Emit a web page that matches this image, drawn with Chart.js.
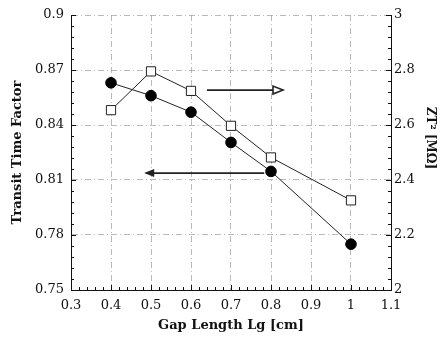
<!DOCTYPE html>
<html><head><meta charset="utf-8">
<style>html,body{margin:0;padding:0;background:#fff}#wrap{width:440px;height:338px}</style>
<script src="https://cdn.jsdelivr.net/npm/chart.js@4.4.1/dist/chart.umd.min.js"></script>
</head><body><div id="wrap"><canvas id="c" width="440" height="338"></canvas></div>
<script>
// ---- data ----
const gapLength = [0.4, 0.5, 0.6, 0.7, 0.8, 1.0];
const transitFactor = [0.863, 0.856, 0.847, 0.8305, 0.8147, 0.775];
const zt2 = [2.654, 2.795, 2.724, 2.597, 2.482, 2.326];

const xTicks = [0.3, 0.4, 0.5, 0.6, 0.7, 0.8, 0.9, 1.0, 1.1];
const xTickLabels = ['0.3', '0.4', '0.5', '0.6', '0.7', '0.8', '0.9', '1', '1.1'];
const yLeftTicks = [0.75, 0.78, 0.81, 0.84, 0.87, 0.9];
const yLeftTickLabels = ['0.75', '0.78', '0.81', '0.84', '0.87', '0.9'];
const yRightTicks = [2, 2.2, 2.4, 2.6, 2.8, 3];
const yRightTickLabels = ['2', '2.2', '2.4', '2.6', '2.8', '3'];

// annotation arrows (data coordinates)
const arrowToRight = { x1: 0.64, x2: 0.83, y: 2.727, axis: 'y2' };
const arrowToLeft = { x1: 0.783, x2: 0.483, y: 0.8138, axis: 'y' };

const FONT = "'DejaVu Serif', 'Liberation Serif', serif";
const INK = '#111';

const ticksPlugin = {
  id: 'decor',
  afterDraw(chart) {
    const ctx = chart.ctx;
    const a = chart.chartArea;
    const sx = chart.scales.x, sy = chart.scales.y, sy2 = chart.scales.y2;
    ctx.save();
    ctx.strokeStyle = INK;
    ctx.lineWidth = 1;
    ctx.beginPath();
    // x ticks (minor every 0.02) inward from bottom
    for (let i = 0; i <= 40; i++) {
      const v = 0.3 + i * 0.02;
      const px = Math.round(sx.getPixelForValue(v)) + 0.5;
      const len = (i % 5 === 0) ? 5 : 3;
      ctx.moveTo(px, a.bottom);
      ctx.lineTo(px, a.bottom - len);
    }
    // left y ticks (minor every 0.006)
    for (let i = 0; i <= 25; i++) {
      const v = 0.75 + i * 0.006;
      const py = Math.round(sy.getPixelForValue(v)) + 0.5;
      const len = (i % 5 === 0) ? 5 : 3;
      ctx.moveTo(a.left, py);
      ctx.lineTo(a.left + len, py);
    }
    // right y ticks (minor every 0.04)
    for (let i = 0; i <= 25; i++) {
      const v = 2 + i * 0.04;
      const py = Math.round(sy2.getPixelForValue(v)) + 0.5;
      const len = (i % 5 === 0) ? 5 : 3;
      ctx.moveTo(a.right, py);
      ctx.lineTo(a.right - len, py);
    }
    ctx.stroke();

    // arrows
    function arrow(spec, open) {
      const ys = chart.scales[spec.axis];
      const x1 = sx.getPixelForValue(spec.x1);
      const x2 = sx.getPixelForValue(spec.x2);
      const y = ys.getPixelForValue(spec.y);
      const dir = Math.sign(x2 - x1);
      const hl = 10, hw = 4;
      ctx.strokeStyle = '#222';
      ctx.fillStyle = '#222';
      ctx.lineWidth = 1.8;
      ctx.beginPath();
      ctx.moveTo(x1, y);
      ctx.lineTo(x2 - dir * (open ? hl : 2), y);
      ctx.stroke();
      ctx.beginPath();
      ctx.moveTo(x2, y);
      ctx.lineTo(x2 - dir * hl, y - hw);
      ctx.lineTo(x2 - dir * hl, y + hw);
      ctx.closePath();
      if (open) { ctx.lineWidth = 1.6; ctx.stroke(); } else { ctx.fill(); }
    }
    arrow(arrowToRight, true);
    arrow(arrowToLeft, false);

    // right axis title
    ctx.fillStyle = INK;
    ctx.font = "bold 12px " + FONT;
    ctx.textAlign = 'center';
    ctx.textBaseline = 'middle';
    ctx.translate(430, 138);
    ctx.rotate(Math.PI / 2);
    ctx.fillText('ZT\u00B2 [M\u03A9]', 0, 0);
    ctx.restore();
  }
};

const gridStyle = { color: '#a8a8a8', lineWidth: 0.8, drawTicks: false };
const borderStyle = { display: true, color: INK, width: 1, dash: [6, 3, 1, 3] };

new Chart(document.getElementById('c'), {
  type: 'line',
  data: {
    datasets: [
      {
        label: 'Transit Time Factor',
        data: gapLength.map((x, i) => ({ x, y: transitFactor[i] })),
        yAxisID: 'y',
        borderColor: '#222',
        borderWidth: 1,
        pointStyle: 'circle',
        pointRadius: 5.3,
        pointBackgroundColor: '#000',
        pointBorderColor: '#000',
        pointBorderWidth: 1,
        tension: 0
      },
      {
        label: 'ZT2',
        data: gapLength.map((x, i) => ({ x, y: zt2[i] })),
        yAxisID: 'y2',
        borderColor: '#222',
        borderWidth: 1,
        pointStyle: 'rect',
        pointRadius: 6.5,
        pointBackgroundColor: '#fff',
        pointBorderColor: '#222',
        pointBorderWidth: 1,
        tension: 0
      }
    ]
  },
  options: {
    responsive: false,
    animation: false,
    devicePixelRatio: 1,
    layout: { padding: { top: 15, left: 0, right: 0, bottom: 0 } },
    plugins: { legend: { display: false }, tooltip: { enabled: false } },
    scales: {
      x: {
        type: 'linear',
        min: 0.3, max: 1.1,
        afterBuildTicks: s => { s.ticks = xTicks.map(v => ({ value: v })); },
        afterFit: s => { s.height = 48; },
        ticks: {
          callback: (v, i) => xTickLabels[i],
          color: INK, font: { family: FONT, size: 13 }, padding: 8, maxRotation: 0, autoSkip: false
        },
        grid: gridStyle,
        border: borderStyle,
        title: {
          display: true, text: 'Gap Length Lg [cm]', color: INK,
          font: { family: FONT, size: 13, weight: 'bold' }, padding: { top: 0, bottom: 5 }
        }
      },
      y: {
        type: 'linear', position: 'left',
        min: 0.75, max: 0.9,
        afterBuildTicks: s => { s.ticks = yLeftTicks.map(v => ({ value: v })); },
        afterFit: s => { s.width = 71; },
        ticks: {
          callback: (v, i) => yLeftTickLabels[i],
          color: INK, font: { family: FONT, size: 13 }, padding: 7, autoSkip: false
        },
        grid: gridStyle,
        border: borderStyle,
        title: {
          display: true, text: 'Transit Time Factor', color: INK,
          font: { family: FONT, size: 13, weight: 'bold' }, padding: { top: 10, bottom: 0 }
        }
      },
      y2: {
        type: 'linear', position: 'right',
        min: 2, max: 3,
        afterBuildTicks: s => { s.ticks = yRightTicks.map(v => ({ value: v })); },
        afterFit: s => { s.width = 49; },
        ticks: {
          callback: (v, i) => yRightTickLabels[i],
          color: INK, font: { family: FONT, size: 13 }, padding: 3, autoSkip: false
        },
        grid: { drawOnChartArea: false, drawTicks: false },
        border: { display: true, color: INK, width: 1 }
      }
    }
  },
  plugins: [ticksPlugin]
});
</script>
</body></html>
